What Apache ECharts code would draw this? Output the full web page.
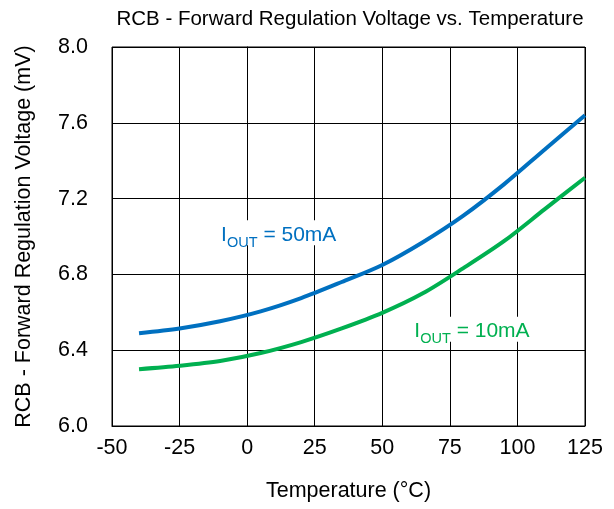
<!DOCTYPE html>
<html><head><meta charset="utf-8">
<script src="https://cdn.jsdelivr.net/npm/echarts@6/dist/echarts.min.js"></script>
<style>html,body{margin:0;padding:0;background:#fff}#c{width:614px;height:509px}</style>
</head><body><div id="c"></div>
<script>
var temps = [-40, -25, -10, 5, 20, 35, 50, 65, 80, 95, 110, 125];
var v50mA = [6.49, 6.515, 6.553, 6.605, 6.675, 6.76, 6.85, 6.97, 7.11, 7.275, 7.458, 7.64];
var v10mA = [6.30, 6.318, 6.343, 6.385, 6.443, 6.515, 6.597, 6.70, 6.833, 6.975, 7.143, 7.31];
var xTicks = [-50, -25, 0, 25, 50, 75, 100, 125];
var yTicks = [6.0, 6.4, 6.8, 7.2, 7.6, 8.0];
var label50 = {x: -10, y: 7.02, text: '50mA'};
var label10 = {x: 61.5, y: 6.51, text: '10mA'};

function pairs(xs, ys){ return xs.map(function(x,i){return [x, ys[i]];}); }
var font = 'Liberation Sans, Arial, sans-serif';
var fs = 21.5;
function lbl(p, color){
  return {
    coord: [p.x, p.y], symbol: 'rect', symbolSize: 0,
    label: {
      show: true, position: 'right', distance: 0,
      backgroundColor: '#fff', padding: [0, 1, 0, 1],
      formatter: '{a|I}{s|OUT}{a| = ' + p.text + '}',
      rich: {
        a: {fontSize: 21, color: color, fontFamily: font, lineHeight: 25, verticalAlign: 'bottom'},
        s: {fontSize: 14.5, color: color, fontFamily: font, lineHeight: 25, verticalAlign: 'bottom', padding: [0,0,-5,0]}
      }
    }
  };
}
var chart = echarts.init(document.getElementById('c'));
chart.setOption({
  animation: false,
  title: {text: 'RCB - Forward Regulation Voltage vs. Temperature', left: 345, textAlign: 'center', top: 4,
    textStyle: {fontSize: 20.5, fontWeight: 'normal', color: '#000', fontFamily: font}},
  grid: {left: 112, right: 29, top: 47, bottom: 83, show: true, borderColor: '#000', borderWidth: 1},
  xAxis: {type: 'value', min: xTicks[0], max: xTicks[xTicks.length-1], interval: 25,
    name: 'Temperature (°C)', nameLocation: 'middle', nameGap: 54,
    nameTextStyle: {fontSize: fs, color: '#000', fontFamily: font},
    axisLine: {lineStyle: {color: '#000'}}, axisTick: {show: false},
    axisLabel: {fontSize: fs, color: '#000', fontFamily: font, margin: 11},
    splitLine: {show: true, lineStyle: {color: '#000', width: 1}}},
  yAxis: {type: 'value', min: yTicks[0], max: yTicks[yTicks.length-1], interval: 0.4,
    name: 'RCB - Forward Regulation Voltage (mV)', nameLocation: 'middle', nameGap: 77,
    nameTextStyle: {fontSize: fs, color: '#000', fontFamily: font},
    axisLine: {lineStyle: {color: '#000'}}, axisTick: {show: false},
    axisLabel: {fontSize: fs, color: '#000', fontFamily: font, margin: 24, formatter: function(v){return v.toFixed(1);}},
    splitLine: {show: true, lineStyle: {color: '#000', width: 1}}},
  series: [
    {type: 'line', data: pairs(temps, v50mA), smooth: 0.3, showSymbol: false, lineStyle: {color: '#0070C0', width: 4},
      markPoint: {data: [lbl(label50, '#0070C0')]}},
    {type: 'line', data: pairs(temps, v10mA), smooth: 0.3, showSymbol: false, lineStyle: {color: '#00B050', width: 4},
      markPoint: {data: [lbl(label10, '#00B050')]}}
  ]
});
</script></body></html>
